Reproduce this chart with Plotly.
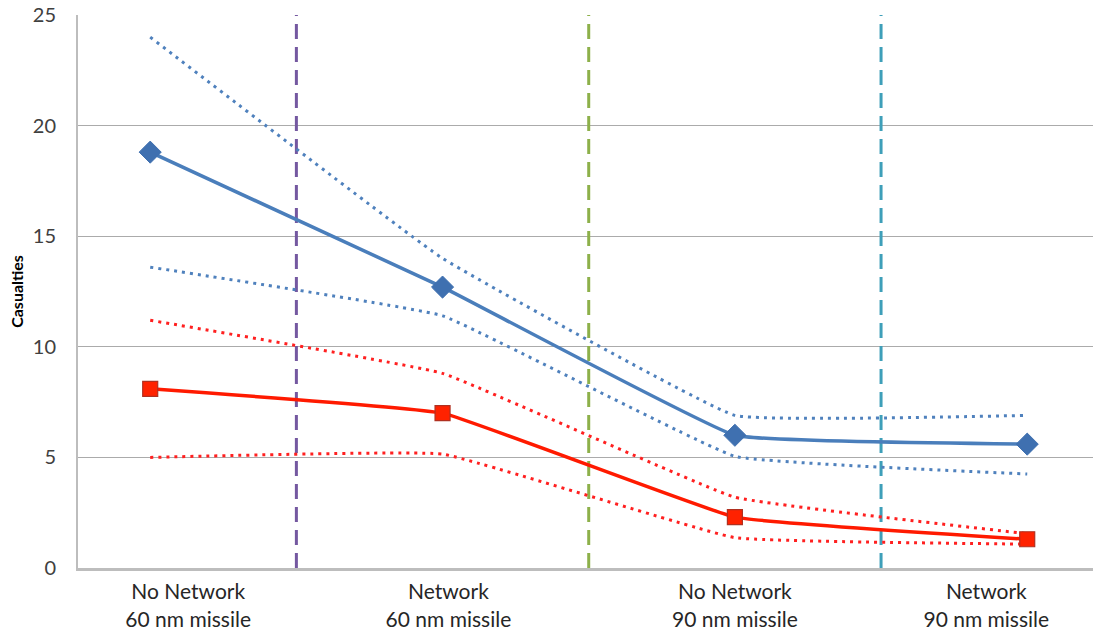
import plotly.graph_objects as go

# Scenario categories (line 1 / line 2 of each axis label)
label_top = ["No Network", "Network", "No Network", "Network"]
label_bottom = ["60 nm missile", "60 nm missile", "90 nm missile", "90 nm missile"]
x_pos = [0, 1, 2, 3]

# Blue series: mean with upper / lower bounds
blue_mean = [18.8, 12.7, 6.0, 5.6]
blue_upper = [24.0, 14.0, 6.9, 6.9]
blue_lower = [13.6, 11.4, 5.05, 4.25]

# Red series: mean with upper / lower bounds
red_mean = [8.1, 7.0, 2.3, 1.3]
red_upper = [11.2, 8.8, 3.2, 1.55]
red_lower = [5.0, 5.15, 1.37, 1.08]

# Separators between scenarios
sep_x = [0.5, 1.5, 2.5]
sep_colors = ["#7458A0", "#8DB04A", "#3E9FB9"]

# Where the two label rows sit along the axis
label_x = [0.13, 1.02, 2.0, 2.86]

BLUE = "#4A7EBB"
RED = "#FF1A00"
SMOOTH = 0.25

fig = go.Figure()

def bound(y, color):
    fig.add_trace(go.Scatter(
        x=x_pos, y=y, mode="lines",
        line=dict(color=color, width=3, dash="3px,5px", shape="spline", smoothing=SMOOTH),
        showlegend=False, hoverinfo="skip"))

bound(blue_upper, "#4F81BD")
bound(blue_lower, "#4F81BD")
bound(red_upper, "#FF2020")
bound(red_lower, "#FF2020")

fig.add_trace(go.Scatter(
    x=x_pos, y=blue_mean, mode="lines+markers",
    line=dict(color=BLUE, width=3.5, shape="spline", smoothing=SMOOTH),
    marker=dict(symbol="diamond", size=17, color="#3F70B0",
                line=dict(color="#3F70B0", width=1)),
    showlegend=False))

fig.add_trace(go.Scatter(
    x=x_pos, y=red_mean, mode="lines+markers",
    line=dict(color=RED, width=3.5, shape="spline", smoothing=SMOOTH),
    marker=dict(symbol="square", size=15, color="#FF2200",
                line=dict(color="#B03020", width=1.2)),
    showlegend=False))

for xs, c in zip(sep_x, sep_colors):
    fig.add_shape(type="line", x0=xs, x1=xs, y0=0, y1=25, xref="x", yref="y",
                  line=dict(color=c, width=3, dash="15px,8px"), layer="between")

font_family = "Lato, 'Open Sans', Arial, sans-serif"

fig.update_layout(
    width=1095, height=634,
    margin=dict(l=78, r=2, t=15, b=66),
    paper_bgcolor="white", plot_bgcolor="white",
    font=dict(family=font_family, color="#404040"),
    xaxis=dict(
        range=[-0.247, 3.225], tickmode="array", tickvals=label_x,
        ticktext=label_top, showgrid=False, zeroline=False,
        showline=True, linecolor="#BDBDBD", linewidth=2.5,
        ticks="", tickfont=dict(size=21, color="#262626"),
        ticklabelstandoff=3),
    xaxis2=dict(
        range=[-0.247, 3.225], overlaying="x", matches="x", anchor="y",
        side="bottom", tickmode="array", tickvals=label_x,
        ticktext=label_bottom, showgrid=False, zeroline=False,
        showline=False, ticks="", tickfont=dict(size=21, color="#262626"),
        ticklabelstandoff=37),
    yaxis=dict(
        range=[0, 25], tickvals=[0, 5, 10, 15, 20, 25],
        showgrid=True, gridcolor="#ABABAB", gridwidth=1.3,
        zeroline=False, showline=True, linecolor="#BDBDBD", linewidth=2,
        ticks="", tickfont=dict(size=20, color="#404040"), ticklabelstandoff=16),
)

fig.update_yaxes(title=dict(text="<b>Casualties</b>",
                            font=dict(size=16, color="#000000"), standoff=5))

# invisible trace bound to the second x axis so its labels are rendered
fig.add_trace(go.Scatter(x=[None], y=[None], xaxis="x2", showlegend=False,
                         hoverinfo="skip"))

fig.write_html("out.html")
